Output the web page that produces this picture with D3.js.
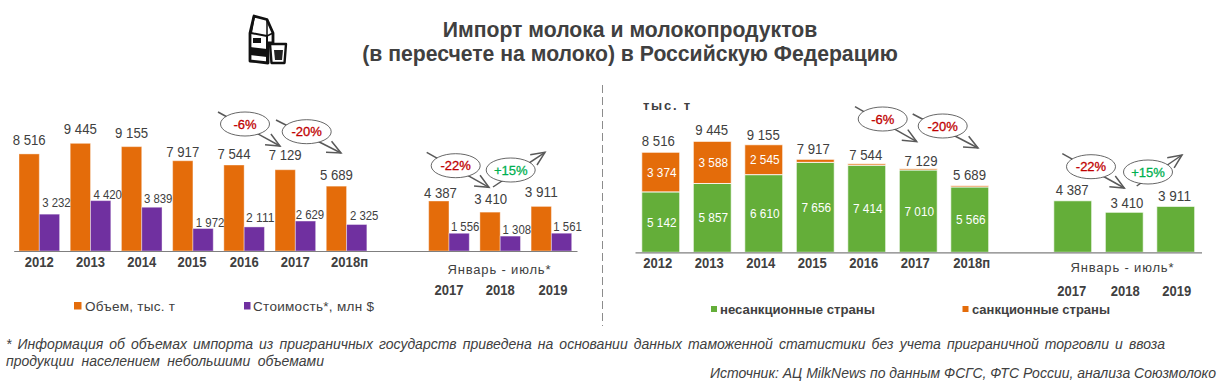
<!DOCTYPE html>
<html>
<head>
<meta charset="utf-8">
<script src="https://cdn.jsdelivr.net/npm/d3@7"></script>
<style>
  html, body { margin: 0; padding: 0; background: #fff; }
  svg { display: block; }
  text { font-family: "Liberation Sans", Arial, sans-serif; fill: #404040; }
</style>
</head>
<body>
<div id="chart"></div>
<script>
// chart data
var categories = ["2012", "2013", "2014", "2015", "2016", "2017", "2018п", "gap", "2017*", "2018*", "2019*"];
var volume = [8516, 9445, 9155, 7917, 7544, 7129, 5689, null, 4387, 3410, 3911];
var cost = [3232, 4420, 3839, 1972, 2111, 2629, 2325, null, 1556, 1308, 1561];
var nonSanction = [5142, 5857, 6610, 7656, 7414, 7010, 5566, null, 4387, 3410, 3911];
var sanction = [3374, 3588, 2545, 261, 130, 119, 123, null, 0, 0, 0];
var sanctionLabels = ["3 374", "3 588", "2 545", "", "", "", "", "", "", "", ""];

var ORANGE = "#e46c0a", PURPLE = "#7030a0", GREEN = "#64ae39", RED = "#c00000", UP = "#00b050", ARROW = "#595959";

var svg = d3.select("#chart").append("svg").attr("width", 1224).attr("height", 387);

// space groups like on the original labels
function fmt(v) {
    return String(v).replace(/(\d)(\d{3})$/, "$1 $2");
}
function tickLabel(c) {
    return c === "gap" ? "" : c.replace("*", "");
}

function addText(str, x, y, size, opts) {
    opts = opts || {};
    var t = svg.append("text").attr("x", x).attr("y", y)
        .attr("font-size", size)
        .attr("text-anchor", opts.anchor || "start")
        .attr("font-weight", opts.bold ? "bold" : "normal")
        .attr("font-style", opts.italic ? "italic" : "normal")
        .text(str);
    if (opts.fill) t.style("fill", opts.fill);
    if (opts.len) t.attr("textLength", opts.len).attr("lengthAdjust", opts.adjust || "spacing");
    // stretch a line to a given width by widening the word gaps only
    if (opts.fit) {
        var gaps = str.split(" ").length - 1;
        t.attr("word-spacing", (opts.fit - t.node().getComputedTextLength()) / gaps);
    }
    return t;
}

// the original's numbers are taller than they are wide
function number(str, x, y, size, width, fill) {
    return addText(str, x, y, size, { anchor: "middle", len: width, adjust: "spacingAndGlyphs", fill: fill });
}

// bottom axis shared by both charts, the jan-jul years sit lower
function drawAxis(x, base, yearDx) {
    var axis = svg.append("g")
        .attr("transform", "translate(0," + base + ")")
        .call(d3.axisBottom(x).tickSize(0).tickFormat(tickLabel));
    axis.select(".domain").attr("stroke", "#7f7f7f").attr("stroke-width", 1.2);
    axis.selectAll("text")
        .attr("font-size", 14)
        .attr("font-weight", "bold")
        .attr("font-family", "Liberation Sans")
        .attr("dy", 0)
        .attr("dx", function (d, i) { return yearDx[i]; })
        .attr("y", function (d) { return d.indexOf("*") > 0 ? 44 : 16; })
        .attr("lengthAdjust", "spacingAndGlyphs")
        .attr("textLength", function (d) { return d === "gap" ? null : (d === "2018п" ? 37 : 29); });
}

// ellipse with percentage sitting on an open-head arrow
function callout(label, color, x0, y0, x1, y1, cx, cy) {
    var a = Math.atan2(y1 - y0, x1 - x0), h = 15;
    var g = svg.append("g");
    g.append("line").attr("x1", x0).attr("y1", y0).attr("x2", x1).attr("y2", y1)
        .attr("stroke", ARROW).attr("stroke-width", 1.5);
    var head = d3.line()([
        [x1 - h * Math.cos(a - 0.42), y1 - h * Math.sin(a - 0.42)],
        [x1, y1],
        [x1 - h * Math.cos(a + 0.42), y1 - h * Math.sin(a + 0.42)]
    ]);
    g.append("path").attr("d", head).attr("fill", "none").attr("stroke", ARROW).attr("stroke-width", 1.5);
    g.append("ellipse").attr("cx", cx).attr("cy", cy).attr("rx", 24.5).attr("ry", 12)
        .attr("fill", "#fff").attr("stroke", "#404040").attr("stroke-width", 0.8);
    g.append("text").attr("x", cx).attr("y", cy + 4.5).attr("text-anchor", "middle")
        .attr("font-size", 13).style("fill", color).style("stroke", color).style("stroke-width", 0.3).text(label);
}

// left chart: grouped bars
function drawLeft() {
    var base = 251;
    var x = d3.scaleBand().domain(categories).range([13.7, 577]).paddingInner(0.207).paddingOuter(0.1035);
    var x1 = d3.scaleBand().domain(["volume", "cost"]).range([0, x.bandwidth()]);
    var y = d3.scaleLinear().domain([0, 10000]).range([base, base - 114]);

    // labels were placed by hand on the original
    var volDx = [0, 0, 0, 0, 0, 0, 0, 0, 1.6, 0.6, 0];
    var volDy = [-9.3, -9, -9, -3.4, -6, -9.3, -6, 0, -2.7, -8, -9];
    var costDx = [7, 7, 6.3, 7, 6, 4.4, 7.5, 0, 6, 6.5, 6];
    var costDy = [-7.5, -2, -4.5, -1.7, -4.5, -2, -4.3, 0, -2.3, -2, -2];

    [["volume", volume, ORANGE], ["cost", cost, PURPLE]].forEach(function (s) {
        svg.append("g").selectAll("rect")
            .data(s[1].map(function (v, i) { return { v: v, c: categories[i] }; }).filter(function (d) { return d.v !== null; }))
            .join("rect")
            .attr("x", function (d) { return x(d.c) + x1(s[0]); })
            .attr("y", function (d) { return y(d.v); })
            .attr("width", x1.bandwidth())
            .attr("height", function (d) { return base - y(d.v); })
            .attr("fill", s[2])
            .attr("stroke", "rgba(255,255,255,0.4)");
    });

    categories.forEach(function (c, i) {
        if (volume[i] === null) return;
        number(fmt(volume[i]), x(c) + x1("volume") + x1.bandwidth() / 2 + volDx[i], y(volume[i]) + volDy[i], 14, 33);
        number(fmt(cost[i]), x(c) + x1("cost") + x1.bandwidth() / 2 + costDx[i], y(cost[i]) + costDy[i], 12.5, 28.5);
    });

    drawAxis(x, base, [0, 0, 0, -1, 0, 0, 3, 0, 0, 0, 1.5]);

    addText("Январь - июль*", 499, 274, 13, { anchor: "middle", len: 103 });

    // legend
    svg.append("rect").attr("x", 74).attr("y", 302).attr("width", 7.5).attr("height", 7.5).attr("fill", ORANGE);
    addText("Объем, тыс. т", 85, 311, 13.5, { len: 90 });
    svg.append("rect").attr("x", 244).attr("y", 302).attr("width", 6.5).attr("height", 7.5).attr("fill", PURPLE);
    addText("Стоимость*, млн $", 253, 311, 13.5, { len: 121 });

    callout("-6%", RED, 218, 112, 280, 146, 245, 124);
    callout("-20%", RED, 276, 120, 341, 153, 306.7, 131.7);
    callout("-22%", RED, 426.7, 152.3, 489, 187.3, 455.7, 165.7);
    callout("+15%", UP, 493, 187, 545, 152.3, 510.7, 170);
}

// right chart: stacked bars
function drawRight() {
    var base = 252.3;
    var x = d3.scaleBand().domain(categories).range([635, 1201.5]).paddingInner(0.262).paddingOuter(0.131);
    var y = d3.scaleLinear().domain([0, 10000]).range([base, base - 117.5]);

    var rows = categories.map(function (c, i) {
        return { c: c, non: nonSanction[i] || 0, san: sanction[i] || 0 };
    });
    var stack = d3.stack().keys(["non", "san"])(rows);
    var colors = { non: GREEN, san: ORANGE };

    stack.forEach(function (layer) {
        svg.append("g").selectAll("rect")
            .data(layer.filter(function (d) { return d[1] > d[0]; }))
            .join("rect")
            .attr("x", function (d) { return x(d.data.c); })
            .attr("y", function (d) { return y(d[1]); })
            .attr("width", x.bandwidth())
            .attr("height", function (d) { return y(d[0]) - y(d[1]); })
            .attr("fill", colors[layer.key])
            .attr("stroke", "rgba(255,255,255,0.8)");
    });

    var totalDx = [-2.4, -0.6, -0.5, -2, -1, 2.8, -0.2, 0, -0.6, 2.7, -1.3];
    var totalDy = [-6.3, -6, -4.3, -5, -3.7, -3, -5.3, 0, -5.3, -4, -5.3];
    categories.forEach(function (c, i) {
        if (volume[i] === null) return;
        var mid = x(c) + x.bandwidth() / 2;
        number(fmt(volume[i]), mid + totalDx[i], y(volume[i]) + totalDy[i], 14, 33);
        if (i < 7) {
            number(fmt(nonSanction[i]), mid + 1, y(nonSanction[i] / 2) + 4.5, 13, 29.5, "#fff");
        }
        if (sanctionLabels[i]) {
            number(sanctionLabels[i], mid + 1, y(nonSanction[i] + sanction[i] / 2) + 4.5, 13, 29.5, "#fff");
        }
    });

    drawAxis(x, base, [-3, -3, -3, -3, -3, -3, 2, 0, -1, 1, 1]);

    addText("тыс. т", 643, 110, 13, { bold: true, len: 47 });
    addText("Январь - июль*", 1122, 272, 13, { anchor: "middle", len: 103 });

    // legend
    svg.append("rect").attr("x", 711).attr("y", 306).attr("width", 6).attr("height", 6).attr("fill", GREEN);
    addText("несанкционные страны", 720, 314, 13, { bold: true, len: 155, adjust: "spacingAndGlyphs" });
    svg.append("rect").attr("x", 962.5).attr("y", 306).attr("width", 6).attr("height", 6).attr("fill", ORANGE);
    addText("санкционные страны", 972, 314, 13, { bold: true, len: 138, adjust: "spacingAndGlyphs" });

    callout("-6%", RED, 855, 106.7, 916.7, 141.7, 882.7, 119);
    callout("-20%", RED, 912.7, 114, 978, 148, 942.7, 126);
    callout("-22%", RED, 1062.3, 153.7, 1124.3, 188, 1091, 166.7);
    callout("+15%", UP, 1136.7, 186, 1182, 155, 1148, 172);
}

// carton + glass icon
function drawIcon() {
    var g = svg.append("g").attr("stroke", "#111").attr("stroke-linejoin", "round").attr("fill", "none");
    g.append("path").attr("d", "M254,16 L267,19.5 L273,33 L273,43 L268,43 L268,63 L250,61 L250,33 Z")
        .attr("fill", "#fff").attr("stroke-width", 2.8);
    g.append("path").attr("d", "M254,16 L251,33 L267,36 L267,62").attr("stroke-width", 2);
    g.append("path").attr("d", "M267,19.5 L267,36 L273,33").attr("stroke-width", 1.5);
    g.append("path").attr("d", "M250,47 L267,49 L267,57 L250,55 Z").attr("fill", "#111").attr("stroke", "none");
    g.append("rect").attr("x", 253).attr("y", 38).attr("width", 8).attr("height", 5).attr("fill", "#111").attr("stroke", "none");
    g.append("path").attr("d", "M270,44 L286,44 L284.5,63 L271.5,63 Z").attr("fill", "#fff").attr("stroke-width", 2.4);
    g.append("path").attr("d", "M274,50 L283,50 L282,60 L275,60 Z").attr("fill", "#222").attr("stroke", "none");
}

drawIcon();
addText("Импорт молока и молокопродуктов", 630, 36.5, 21.2, { anchor: "middle", bold: true });
addText("(в пересчете на молоко) в Российскую Федерацию", 630, 61, 21.2, { anchor: "middle", bold: true });

svg.append("line").attr("x1", 602.5).attr("x2", 602.5).attr("y1", 85).attr("y2", 326)
    .attr("stroke", "#8c8c8c").attr("stroke-width", 1).attr("stroke-dasharray", "8,4");

drawLeft();
drawRight();

addText("* Информация об объемах импорта из приграничных государств приведена на основании данных таможенной статистики без учета приграничной торговли и ввоза", 6, 349, 14, { italic: true, fit: 1159 });
addText("продукции населением небольшими объемами", 6, 366, 14, { italic: true, fit: 318 });
addText("Источник: АЦ MilkNews по данным ФСГС, ФТС России, анализа Союзмолоко", 1216, 378, 14, { italic: true, anchor: "end" });
</script>
</body>
</html>
